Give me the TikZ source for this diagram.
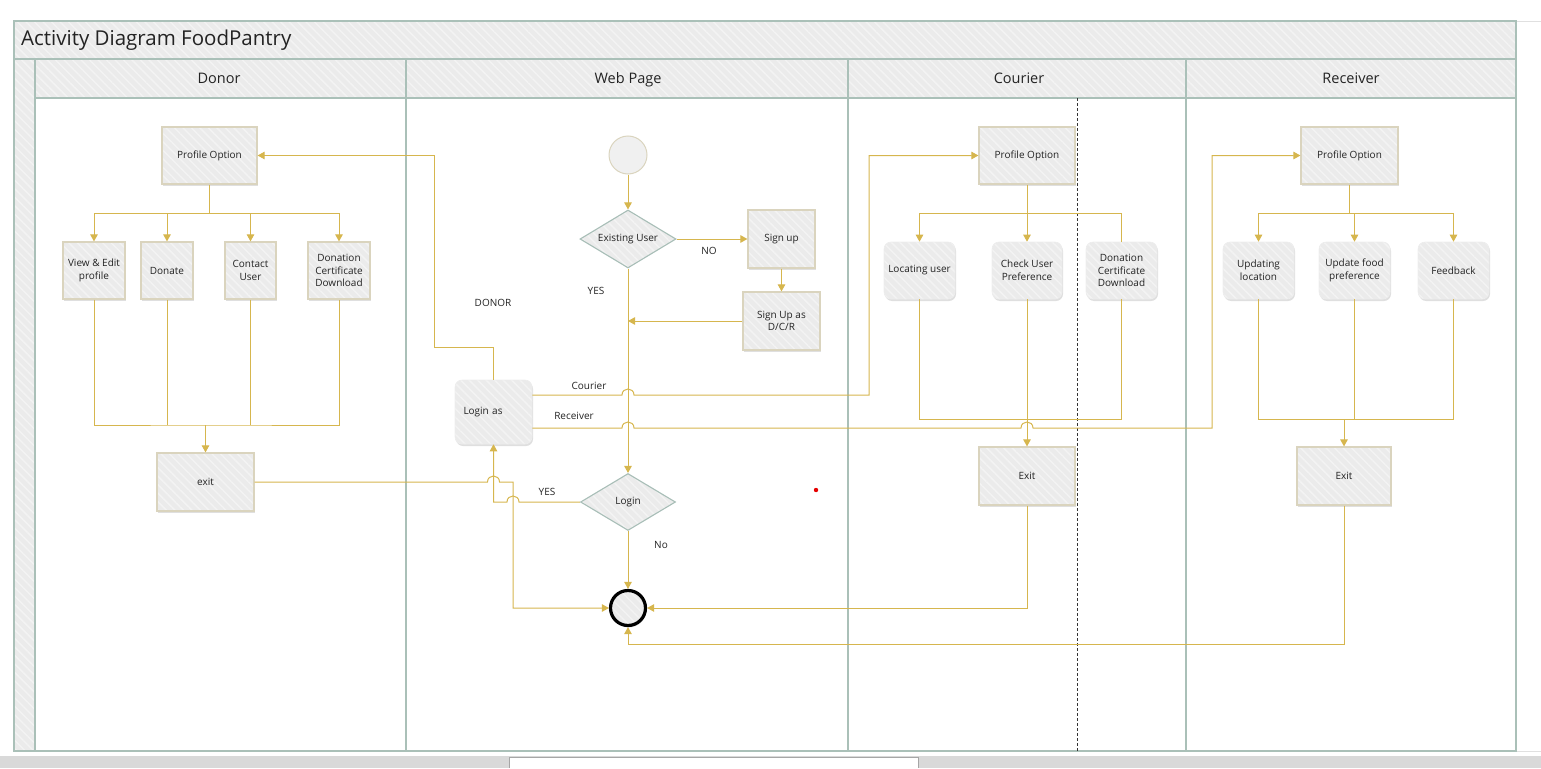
\documentclass[tikz,border=0pt]{standalone}
\usepackage{fontspec}
\setmainfont{Open Sans}
\usetikzlibrary{shapes.geometric,arrows.meta,shadows,patterns.meta}

\definecolor{flowc}{RGB}{214,182,78}
\definecolor{lanec}{RGB}{170,192,184}
\definecolor{boxfill}{RGB}{235,235,235}
\definecolor{stripec}{RGB}{243,243,243}
\definecolor{boxline}{RGB}{218,212,190}
\definecolor{dialine}{RGB}{168,190,183}
\definecolor{bandc}{RGB}{217,217,217}
\definecolor{txtc}{RGB}{35,35,35}

\tikzset{
  hatch/.style={preaction={fill=boxfill},
    preaction={pattern={Lines[angle=-45,distance=6pt,line width=1.5pt]}, pattern color=stripec}},
  lane/.style={draw=lanec, line width=1.4pt},
  shade/.style={drop shadow={shadow xshift=1pt, shadow yshift=-2pt, opacity=.25, fill=black!50}},
  txt/.style={font=\fontsize{10}{12.7}\selectfont, text=txtc},
  box/.style={rectangle, shade, hatch, draw=boxline, line width=1.2pt, txt, align=center, inner sep=1pt},
  rbox/.style={rectangle, rounded corners=7pt, shade, hatch, draw=black!7, line width=0.6pt, txt, align=center, inner sep=1pt},
  decision/.style={diamond, hatch, draw=dialine, line width=1.1pt, txt, inner sep=0pt, aspect=1.65},
  flow/.style={draw=flowc, line width=1pt},
  arr/.style={flow, -{Triangle[length=7pt,width=7.5pt]}},
  lbl/.style={txt, inner sep=0pt},
  hdr/.style={font=\fontsize{14.5}{16}\selectfont, text=txtc, inner sep=0pt, anchor=base},
}

\begin{document}
\begin{tikzpicture}[x=1pt,y=-1pt]
\useasboundingbox (0,0) rectangle (1541,768);

% window band below the drawing
\fill[bandc] (0,756) rectangle (1541,768);
\filldraw[fill=white, draw=black!35, line width=0.8pt] (509,768) -- (509,757) -- (918,757) -- (918,768);
\draw[black!12, line width=1pt] (1516,22) -- (1541,22);
\draw[black!12, line width=1pt] (1516,751) -- (1541,751);

% swimlane frame
\path[hatch] (14,21) rectangle (1516,59);
\path[hatch] (14,59) rectangle (35,751);
\path[hatch] (35,59) rectangle (1516,98);
\draw[lane] (14,21) rectangle (1516,751);
\draw[lane] (14,59) -- (1516,59);
\draw[lane] (35,98) -- (1516,98);
\foreach \x in {35,406,848,1186} \draw[lane] (\x,59) -- (\x,751);
\draw[black!80, dash pattern=on 3pt off 2pt, line width=0.8pt] (1077,98) -- (1077,751);

\node[font=\fontsize{20.5}{24}\selectfont, text=txtc, anchor=west, inner sep=0pt] (title) at (21,40) {Activity Diagram FoodPantry};
\node[hdr] (hdonor) at (219,83.5) {Donor};
\node[hdr] (hweb) at (628,83.5) {Web Page};
\node[hdr] (hcour) at (1019,83.5) {Courier};
\node[hdr] (hrecv) at (1351,83.5) {Receiver};

% Donor lane
\node[box, minimum width=95pt, minimum height=57pt] (dprof) at (209.5,155.5) {Profile Option};
\node[box, minimum width=62pt, minimum height=57pt] (dview) at (94,270.5) {View \& Edit\\profile};
\node[box, minimum width=52pt, minimum height=57pt] (ddon) at (167,270.5) {Donate};
\node[box, minimum width=51pt, minimum height=57pt] (dcont) at (250.5,270.5) {Contact\\User};
\node[box, minimum width=62pt, minimum height=57pt] (dcert) at (339,270.5) {Donation\\Certificate\\Download};
\node[box, minimum width=97pt, minimum height=58pt] (dexit) at (205.5,482) {exit};

% Web Page lane
\node[circle, minimum size=38pt, fill=black!6, draw=boxline, line width=1pt, inner sep=0pt] (start) at (628,155) {};
\node[decision, minimum width=96pt, minimum height=58pt] (exist) at (628,239) {Existing User};
\node[box, minimum width=67pt, minimum height=58pt] (signup) at (781.5,239) {Sign up};
\node[box, minimum width=77pt, minimum height=58pt] (signas) at (781.5,321) {Sign Up as\\D/C/R};
\node[rbox, minimum width=77pt, minimum height=64pt, text width=60pt, align=left, inner xsep=8.5pt] (loginas) at (493.5,412) {Login as};
\node[decision, minimum width=95pt, minimum height=57pt] (login) at (628,502) {Login};
\node[circle, minimum size=35pt, shade, hatch, draw=black, line width=3.2pt, inner sep=0pt] (endn) at (628,608) {};
\fill[red!90!black] (816,490) circle[radius=2.2pt];

% Courier lane
\node[box, minimum width=96pt, minimum height=57pt] (cprof) at (1027,155.5) {Profile Option};
\node[rbox, minimum width=71pt, minimum height=57pt] (cloc) at (919.5,270.5) {Locating user};
\node[rbox, minimum width=70pt, minimum height=57pt] (cchk) at (1027,270.5) {Check User\\Preference};
\node[rbox, minimum width=71pt, minimum height=57pt] (ccert) at (1121.5,270.5) {Donation\\Certificate\\Download};
\node[box, minimum width=96pt, minimum height=58pt] (cexit) at (1027,476) {Exit};

% Receiver lane
\node[box, minimum width=97pt, minimum height=57pt] (rprof) at (1349.5,155.5) {Profile Option};
\node[rbox, minimum width=71pt, minimum height=57pt] (rupd) at (1258.5,270.5) {Updating\\location};
\node[rbox, minimum width=71pt, minimum height=57pt] (rfood) at (1354.5,270.5) {Update food\\preference};
\node[rbox, minimum width=71pt, minimum height=57pt] (rfb) at (1453.5,270.5) {Feedback};
\node[box, minimum width=94pt, minimum height=58pt] (rexit) at (1344,476) {Exit};

% branch points
\coordinate (dsplit) at (209.5,213);
\coordinate (djoin) at (205.5,425);
\coordinate (csplit) at (1027,213);
\coordinate (rsplit) at (1349.5,213);

% Donor flows
\draw[flow] (dprof.south) -- (dsplit);
\draw[arr] (dsplit) -| (dview.north);
\draw[arr] (dsplit) -| (ddon.north);
\draw[arr] (dsplit) -| (dcont.north);
\draw[arr] (dsplit) -| (dcert.north);
\draw[flow] (dview.south) |- (djoin) -| (dcert.south);
\draw[flow] (ddon.south) -- (ddon.south |- djoin);
\draw[flow] (dcont.south) -- (dcont.south |- djoin);
\draw[arr] (djoin) -- (dexit.north);
\draw[arr] (dexit.east) -- (487.5,482) .. controls (487.5,474) and (499.5,474) .. (499.5,482) -- (513,482) |- (endn.west);

% Web Page flows
\draw[arr] (start.south) -- (exist.north);
\draw[arr] (exist.east) -- (signup.west);
\draw[arr] (signup.south) -- (signas.north);
\draw[arr] (signas.west) -- (exist.south |- signas.west);
\draw[arr] (exist.south) -- (login.north);
\draw[arr] (login.south) -- (endn.north);
\draw[arr] (login.west) -- (519,502) .. controls (519,494) and (507,494) .. (507,502) -- (493.5,502) -- (loginas.south);
\draw[arr] (loginas.north) |- (434,347) |- (dprof.east);
\draw[arr] (loginas.east |- 0,395) -- (622,395) .. controls (622,387) and (634,387) .. (634,395) -- (869,395) |- (cprof.west);
\draw[arr] (loginas.east |- 0,428) -- (622,428) .. controls (622,420) and (634,420) .. (634,428) -- (1021,428) .. controls (1021,420) and (1033,420) .. (1033,428) -- (1212,428) |- (rprof.west);

\node[lbl] (lno) at (709,251) {NO};
\node[lbl] (lyes) at (596,291) {YES};
\node[lbl] (ldonor) at (493,303) {DONOR};
\node[lbl] (lcour) at (589,386) {Courier};
\node[lbl] (lrecv) at (574,416) {Receiver};
\node[lbl] (lyes2) at (547,492) {YES};
\node[lbl] (lno2) at (661,545) {No};

% Courier flows
\draw[arr] (cprof.south) -- (cchk.north);
\draw[flow] (ccert.north) |- (csplit);
\draw[arr] (csplit) -| (cloc.north);
\draw[flow] (cloc.south) |- (ccert.south |- 0,419) -- (ccert.south);
\draw[arr] (cchk.south) -- (cexit.north);
\draw[arr] (cexit.south) |- (endn.east);

% Receiver flows
\draw[flow] (rprof.south) -- (rsplit);
\draw[arr] (rsplit) -| (rupd.north);
\draw[arr] (rsplit) -| (rfb.north);
\draw[arr] (rfood.north |- rsplit) -- (rfood.north);
\draw[flow] (rupd.south) |- (rfb.south |- 0,419) -- (rfb.south);
\draw[flow] (rfood.south) |- (1344,419);
\draw[arr] (rexit.north |- 0,419) -- (rexit.north);
\draw[arr] (rexit.south) |- (endn.south |- 0,644) -- (endn.south);
\end{tikzpicture}
\end{document}
